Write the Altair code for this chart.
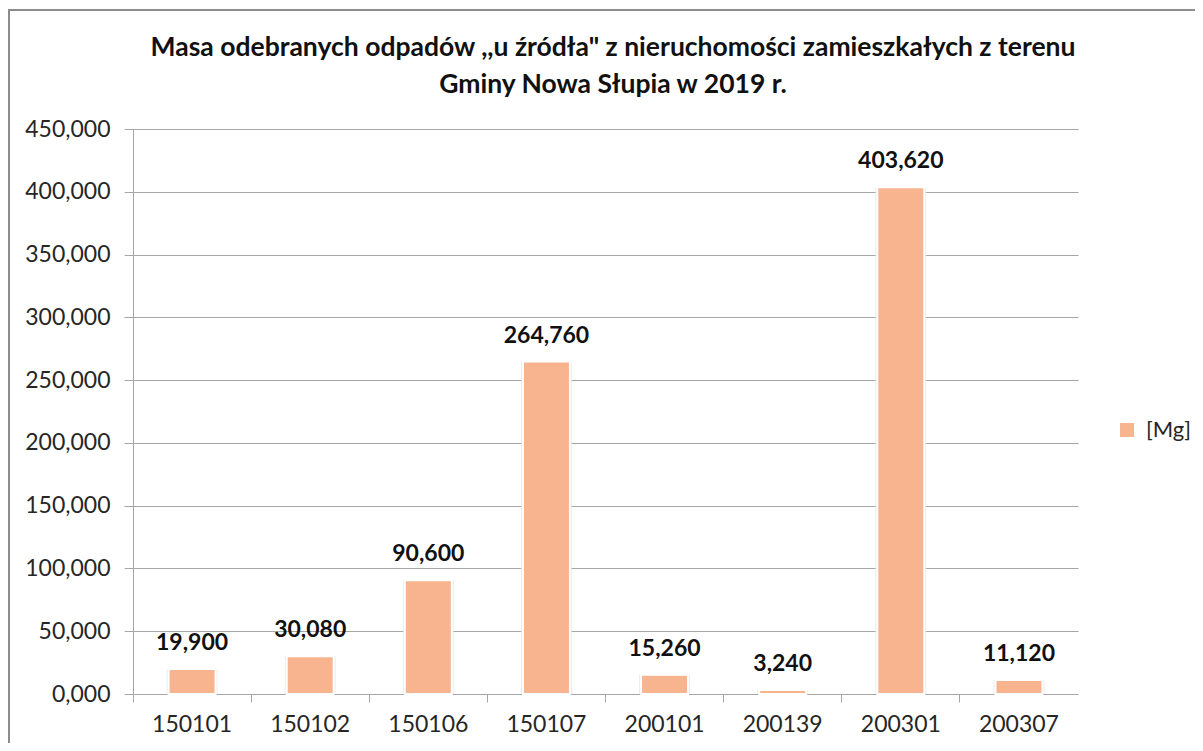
import altair as alt
import pandas as pd

categories = ["150101", "150102", "150106", "150107", "200101", "200139", "200301", "200307"]
values = [19.900, 30.080, 90.600, 264.760, 15.260, 3.240, 403.620, 11.120]
series_name = "[Mg]"
title_lines = ["Masa odebranych odpadów ,,u źródła\" z nieruchomości zamieszkałych z terenu",
               "Gminy Nowa Słupia w 2019 r."]

df = pd.DataFrame({"kod": categories, "masa": values, "seria": [series_name] * len(categories)})

FONT = "Lato"
BAR = "#F8B48E"
GRID = "#a6a6a6"

base = alt.Chart(df).encode(
    x=alt.X("kod:N", sort=categories, title=None,
            scale=alt.Scale(paddingInner=0, paddingOuter=0),
            axis=alt.Axis(labelAngle=0, labelFont=FONT, labelFontSize=23, labelColor="#262626",
                          labelPadding=11, tickSize=8, tickColor=GRID, domainColor=GRID,
                          bandPosition=0, grid=False)),
    y=alt.Y("masa:Q", title=None,
            scale=alt.Scale(domain=[0, 450], nice=False),
            axis=alt.Axis(values=list(range(0, 451, 50)),
                          labelExpr="replace(format(datum.value, '.3f'), '.', ',')",
                          labelFont=FONT, labelFontSize=23, labelColor="#262626",
                          labelPadding=14, tickSize=9, tickColor=GRID,
                          domainColor=GRID, gridColor=GRID, gridWidth=1)),
)

shadow = base.mark_bar(size=51, color="#e4e4e4", opacity=0.7)

bars = base.mark_bar(size=47, stroke="white", strokeWidth=2).encode(
    color=alt.Color("seria:N", scale=alt.Scale(range=[BAR]),
                    legend=alt.Legend(title=None, orient="none", legendX=983, legendY=290,
                                      symbolType="square", symbolSize=196, symbolStrokeWidth=0,
                                      labelFont=FONT, labelFontSize=22, labelColor="#262626",
                                      labelOffset=8))
)

labels = base.transform_calculate(
    lab="replace(format(datum.masa, '.3f'), '.', ',')"
).mark_text(font=FONT, fontSize=23, fontWeight="bold", color="#111111",
            baseline="alphabetic", dy=-19).encode(text="lab:N")

one = alt.Data(values=[{"a": 1}])

frame = alt.Chart(one).mark_rect(
    fill=None, stroke="#8c8c8c", strokeWidth=2
).encode(x=alt.value(-124), x2=alt.value(1400), y=alt.value(-119), y2=alt.value(800))

title1 = alt.Chart(one).mark_text(
    text=title_lines[0], font=FONT, fontSize=26.5, fontWeight="bold", color="#111111",
    align="center", baseline="middle"
).encode(x=alt.value(480), y=alt.value(-81))

title2 = alt.Chart(one).mark_text(
    text=title_lines[1], font=FONT, fontSize=26.5, fontWeight="bold", color="#111111",
    align="center", baseline="middle"
).encode(x=alt.value(480), y=alt.value(-44))

chart = alt.layer(frame, shadow, bars, labels, title1, title2).properties(
    width=945, height=565,
    autosize=alt.AutoSizeParams(type="none"),
    padding={"left": 125, "top": 121, "right": 117, "bottom": 49},
).configure_view(stroke=None).configure_axis(domainWidth=1, tickWidth=1)

chart.save("out.html", embed_options={"renderer": "svg", "actions": False})
